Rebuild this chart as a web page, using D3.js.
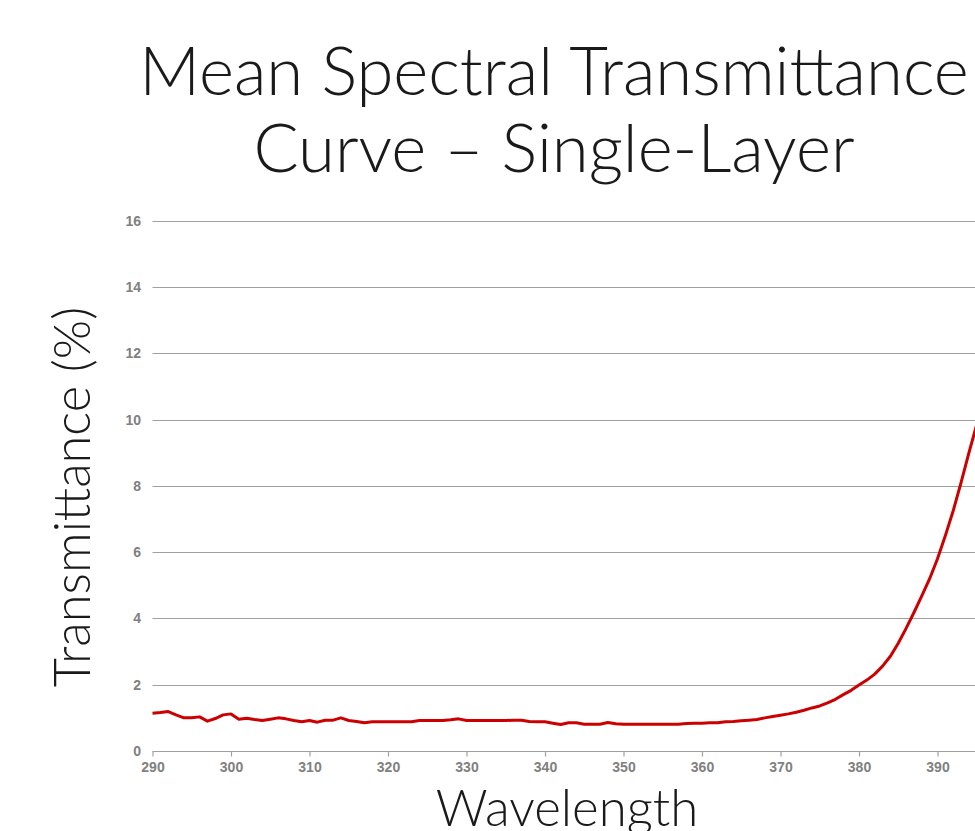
<!DOCTYPE html>
<html>
<head>
<meta charset="utf-8">
<script src="https://cdn.jsdelivr.net/npm/d3@7"></script>
<style>
    html, body { margin: 0; padding: 0; background: #fff; overflow: hidden; }
    svg { display: block; }
    .tick-label { font-family: "Liberation Sans", Arial, sans-serif; font-size: 14px; font-weight: bold; fill: #808080; }
    .big { font-family: Lato, "Open Sans", sans-serif; font-weight: 300; fill: #1a1a1a; }
</style>
</head>
<body>
<svg id="chart"></svg>
<script>
// Mean spectral transmittance, single layer
var titleLines = ["Mean Spectral Transmittance", "Curve \u2013 Single-Layer"];
var xTicks = [290, 300, 310, 320, 330, 340, 350, 360, 370, 380, 390];
var yTicks = [0, 2, 4, 6, 8, 10, 12, 14, 16];

var wavelength = d3.range(290, 396);
var transmittance = [
    1.14, 1.16, 1.19, 1.09, 1.00, 1.00, 1.03, 0.90, 0.98, 1.09,
    1.12, 0.96, 0.99, 0.95, 0.92, 0.96, 1.00, 0.97, 0.92, 0.88,
    0.92, 0.87, 0.93, 0.93, 1.00, 0.92, 0.89, 0.85, 0.88, 0.88,
    0.88, 0.88, 0.88, 0.88, 0.92, 0.92, 0.92, 0.92, 0.94, 0.97,
    0.92, 0.92, 0.92, 0.92, 0.92, 0.92, 0.93, 0.93, 0.89, 0.88,
    0.88, 0.84, 0.80, 0.85, 0.85, 0.81, 0.81, 0.81, 0.86, 0.82,
    0.81, 0.81, 0.81, 0.81, 0.81, 0.81, 0.81, 0.81, 0.83, 0.84,
    0.84, 0.85, 0.85, 0.88, 0.89, 0.91, 0.93, 0.95, 1.00, 1.04,
    1.08, 1.12, 1.17, 1.23, 1.30, 1.36, 1.45, 1.56, 1.70, 1.83,
    1.99, 2.14, 2.32, 2.56, 2.86, 3.25, 3.70, 4.18, 4.68, 5.20,
    5.80, 6.50, 7.25, 8.10, 9.00, 9.85
];

var width = 975;
var height = 831;

var svg = d3.select("#chart")
    .attr("width", width)
    .attr("height", height);

// plot area runs off the right edge like the original
var x = d3.scaleLinear()
    .domain([290, 400])
    .range([152.5, 152.5 + 110 * 7.85]);

var y = d3.scaleLinear()
    .domain([0, 16])
    .range([751, 220.8]);

// gridlines
svg.append("g")
    .selectAll("line")
    .data(yTicks)
    .enter()
    .append("line")
    .attr("x1", x(290))
    .attr("x2", width + 5)
    .attr("y1", function (d) { return Math.round(y(d)) + 0.5; })
    .attr("y2", function (d) { return Math.round(y(d)) + 0.5; })
    .attr("stroke", "#a0a0a0")
    .attr("stroke-width", 1.2);

// y tick labels
svg.append("g")
    .selectAll("text")
    .data(yTicks)
    .enter()
    .append("text")
    .attr("class", "tick-label")
    .attr("x", 141)
    .attr("y", function (d) { return y(d); })
    .attr("dy", "0.35em")
    .attr("text-anchor", "end")
    .text(function (d) { return d; });

// x axis ticks + labels
var xAxis = d3.axisBottom(x)
    .tickValues(xTicks)
    .tickSize(5)
    .tickFormat(d3.format("d"));

var xg = svg.append("g")
    .attr("transform", "translate(0," + (Math.round(y(0)) + 0.5) + ")")
    .call(xAxis);
xg.select(".domain").remove();
xg.selectAll(".tick line").attr("stroke", "#a0a0a0").attr("stroke-width", 1.2);
xg.selectAll(".tick text")
    .attr("class", "tick-label")
    .attr("y", 11)
    .attr("dy", "0.71em")
    .attr("font-family", null)
    .attr("font-size", null);

// the curve
var line = d3.line()
    .x(function (d, i) { return x(wavelength[i]); })
    .y(function (d) { return y(d); });

svg.append("path")
    .datum(transmittance)
    .attr("fill", "none")
    .attr("stroke", "#cc0000")
    .attr("stroke-width", 3)
    .attr("stroke-linejoin", "round")
    .attr("d", line);

// title
svg.append("g")
    .selectAll("text")
    .data(titleLines)
    .enter()
    .append("text")
    .attr("class", "big")
    .attr("x", 554)
    .attr("y", function (d, i) { return 95 + i * 77; })
    .attr("text-anchor", "middle")
    .attr("font-size", 67)
    .text(function (d) { return d; });

// axis titles (the reference crops this one at the bottom edge too)
svg.append("text")
    .attr("class", "big")
    .attr("x", 567)
    .attr("y", 826)
    .attr("text-anchor", "middle")
    .attr("font-size", 51)
    .text("Wavelength");

svg.append("text")
    .attr("class", "big")
    .attr("transform", "translate(90,497) rotate(-90)")
    .attr("text-anchor", "middle")
    .attr("font-size", 50.5)
    .text("Transmittance (%)");
</script>
</body>
</html>
